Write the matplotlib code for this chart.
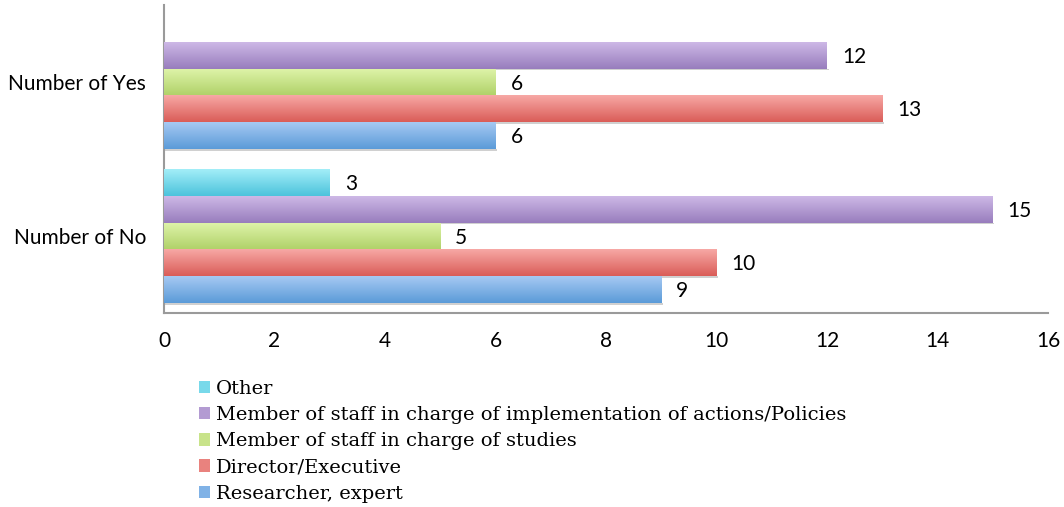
import numpy as np
import matplotlib
matplotlib.use("Agg")
import matplotlib.pyplot as plt
from matplotlib.colors import LinearSegmentedColormap
from matplotlib.patches import Patch

categories = ["Number of No", "Number of Yes"]
series_names = ["Researcher, expert", "Director/Executive",
                "Member of staff in charge of studies",
                "Member of staff in charge of implementation of actions/Policies",
                "Other"]
researcher = [9, 6]
director = [10, 13]
studies = [5, 6]
implementation = [15, 12]
other = [3, 0]
series_values = [researcher, director, studies, implementation, other]

top_colors = ["#A6C9F3", "#F7A8A5", "#DFF4AA", "#CDB8E6", "#A3EEF8"]
bot_colors = ["#5B9BD8", "#DA5D58", "#B1D26A", "#987DBD", "#4CC3DC"]
mid_colors = ["#80B2E6", "#E9827E", "#C8E38A", "#B39BD2", "#78D9EA"]

fig = plt.figure(figsize=(10.64, 5.07), dpi=100)
ax = fig.add_axes([164/1064, 1-313/507, (1048-164)/1064, (313-5)/507])

w = 0.175
y = np.arange(len(categories))
offsets = [-2*w, -w, 0, w, 2*w]
grad = np.linspace(0, 1, 64).reshape(-1, 1)
for vals, off, ct, cb in zip(series_values, offsets, top_colors, bot_colors):
    bars = ax.barh(y + off, vals, height=w, color="none", edgecolor="none", zorder=3)
    cmap = LinearSegmentedColormap.from_list("g", [cb, ct])
    for b, v in zip(bars, vals):
        if v <= 0:
            continue
        x0, y0 = b.get_x(), b.get_y()
        x1, y1 = x0 + b.get_width(), y0 + b.get_height()
        ax.fill_between([x0, x1 + 0.03], y0 - 0.012, y0, color="#d0d0d0", zorder=2, lw=0)
        ax.imshow(grad, extent=(x0, x1, y0, y1), origin="lower", cmap=cmap,
                  aspect="auto", zorder=3, interpolation="bilinear")
        ax.text(x1 + 0.27, b.get_y() + b.get_height()/2 - 0.01, f"{v}", va="center", ha="left",
                fontsize=15, family="Lato", color="black", zorder=4)

ax.set_xlim(0, 16)
ax.set_ylim(-0.5, 1.5)
ax.set_xticks(range(0, 17, 2))
ax.set_yticks(y)
ax.set_yticklabels(categories, fontsize=15, family="Lato")
for lab in ax.get_yticklabels():
    lab.set_y(lab.get_position()[1])
for lab in ax.get_xticklabels():
    lab.set_family("Lato")
    lab.set_fontsize(15)
ax.tick_params(axis="both", length=0)
ax.tick_params(axis="x", pad=13)
ax.tick_params(axis="y", pad=13)
for s in ["top", "right"]:
    ax.spines[s].set_visible(False)
for s in ["left", "bottom"]:
    ax.spines[s].set_color("#9a9a9a")
    ax.spines[s].set_linewidth(1.5)

handles = [Patch(facecolor=mid_colors[i], edgecolor="none") for i in [4, 3, 2, 1, 0]]
labels = [series_names[i] for i in [4, 3, 2, 1, 0]]
fig.legend(handles, labels, loc="upper left", bbox_to_anchor=(199/1064, 1-380/507),
           frameon=False, prop={"family": "DejaVu Serif", "size": 14},
           handlelength=0.55, handleheight=0.6, handletextpad=0.3, labelspacing=0.42,
           borderpad=0, borderaxespad=0)

fig.savefig("out.png", dpi=100)
